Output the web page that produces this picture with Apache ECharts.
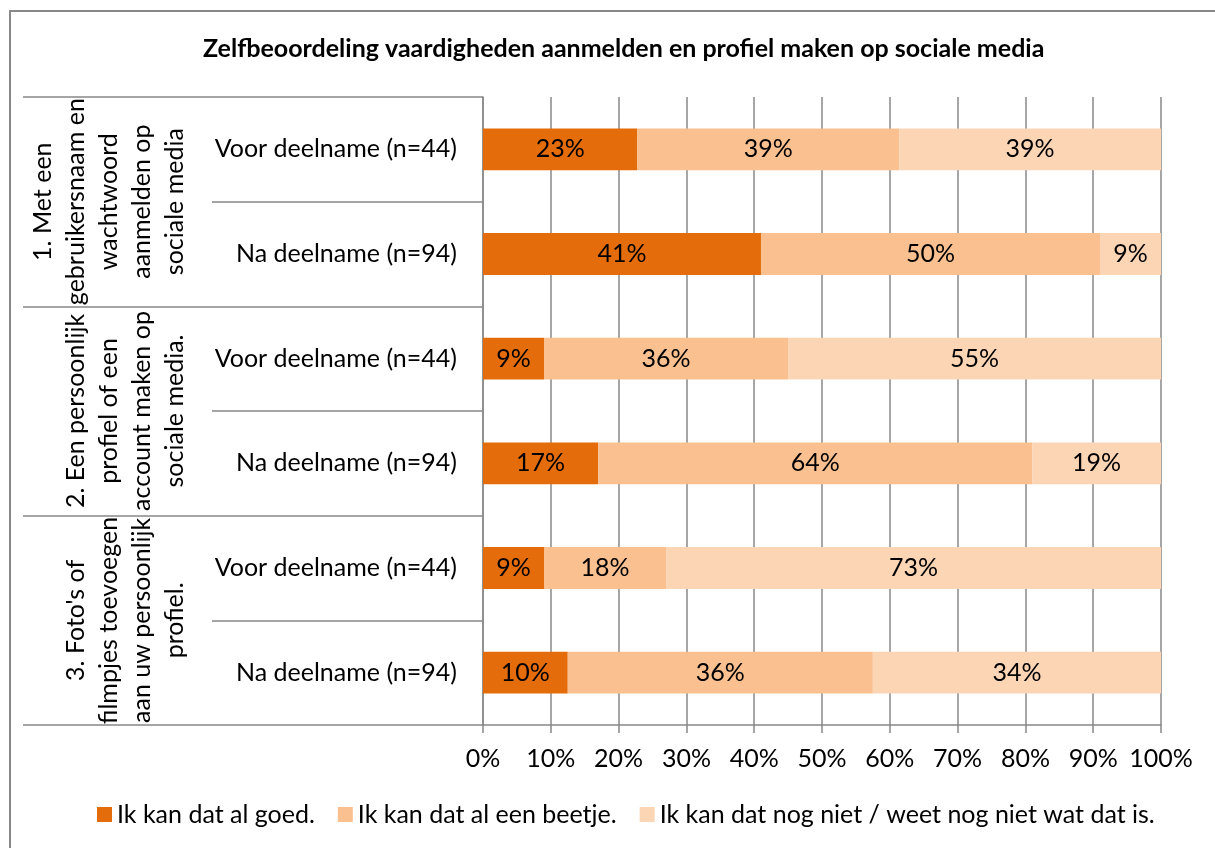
<!DOCTYPE html>
<html lang="nl">
<head>
    <meta charset="UTF-8">
    <title>Zelfbeoordeling</title>
    <style>
        html, body { margin: 0; padding: 0; background: #fff; }
        #main { width: 1215px; height: 848px; }
    </style>
    <script src="https://cdn.jsdelivr.net/npm/echarts@6/dist/echarts.min.js"></script>
</head>
<body>
    <div id="main"></div>
    <script>
        // vragen (groepen) en momenten
        var groepen = [
            '1. Met een\ngebruikersnaam en\nwachtwoord\naanmelden op\nsociale media',
            '2. Een persoonlijk\nprofiel of een\naccount maken op\nsociale media.',
            "3. Foto's of\nfilmpjes toevoegen\naan uw persoonlijk\nprofiel."
        ];
        var momenten = [
            'Voor deelname (n=44)', 'Na deelname (n=94)',
            'Voor deelname (n=44)', 'Na deelname (n=94)',
            'Voor deelname (n=44)', 'Na deelname (n=94)'
        ];
        var reeksen = ['Ik kan dat al goed.', 'Ik kan dat al een beetje.', 'Ik kan dat nog niet / weet nog niet wat dat is.'];

        // percentages zoals in de labels
        var goed   = [23, 41, 9, 17, 9, 10];
        var beetje = [39, 50, 36, 64, 18, 36];
        var nog    = [39, 9, 55, 19, 73, 34];
        var xTicks = [0, 10, 20, 30, 40, 50, 60, 70, 80, 90, 100];

        var kleuren = ['#E46C0A', '#FAC090', '#FCD5B5'];
        var font = 'Lato';
        var fs = 25;
        var lijn = '#888888';

        // 100% gestapeld, net als in Excel
        var totaal = goed.map(function (v, i) { return v + beetje[i] + nog[i]; });
        function aandeel(arr) {
            return arr.map(function (v, i) { return v / totaal[i] * 100; });
        }
        var ruw = [goed, beetje, nog];

        var series = ruw.map(function (arr, k) {
            return {
                name: reeksen[k],
                type: 'bar',
                stack: 'totaal',
                yAxisIndex: 0,
                barWidth: '40%',
                itemStyle: { color: kleuren[k] },
                label: {
                    show: true,
                    position: 'inside',
                    color: '#000',
                    fontFamily: font,
                    fontSize: fs,
                    formatter: function (p) { return arr[p.dataIndex] + '%'; }
                },
                data: aandeel(arr)
            };
        });

        var chart = echarts.init(document.getElementById('main'));
        chart.setOption({
            backgroundColor: '#fff',
            animation: false,
            title: {
                text: 'Zelfbeoordeling vaardigheden aanmelden en profiel maken op sociale media',
                left: 198,
                top: 31,
                textStyle: { fontFamily: font, fontWeight: 'bold', fontSize: fs, color: '#000' }
            },
            legend: {
                bottom: 16,
                left: 92,
                icon: 'rect',
                itemWidth: 15,
                itemHeight: 15,
                itemGap: 23,
                textStyle: { fontFamily: font, fontSize: fs, color: '#000' },
                data: reeksen
            },
            grid: { left: 483, right: 54, top: 97, bottom: 123 },
            xAxis: {
                type: 'value',
                min: xTicks[0],
                max: xTicks[xTicks.length - 1],
                interval: 10,
                axisLine: { show: true, lineStyle: { color: lijn, width: 1.5 } },
                axisTick: { show: true, length: 8, lineStyle: { color: lijn, width: 1.5 } },
                splitLine: { show: true, lineStyle: { color: lijn, width: 1.5 } },
                axisLabel: {
                    margin: 21,
                    color: '#000',
                    fontFamily: font,
                    fontSize: fs,
                    formatter: '{value}%'
                }
            },
            yAxis: [{
                type: 'category',
                position: 'left',
                inverse: true,
                data: momenten,
                axisLine: { show: true, lineStyle: { color: lijn, width: 1.5 } },
                axisTick: { show: true, interval: 0, length: 271, lineStyle: { color: lijn, width: 1.5 } },
                axisLabel: { interval: 0, margin: 26, color: '#000', fontFamily: font, fontSize: fs }
            }, {
                type: 'category',
                position: 'left',
                inverse: true,
                min: 0,
                max: groepen.length - 1,
                data: groepen,
                axisLine: { show: false },
                axisTick: { show: true, interval: 0, length: 460, lineStyle: { color: lijn, width: 1.5 } },
                axisLabel: {
                    interval: 0,
                    rotate: 90,
                    margin: 292,
                    lineHeight: 33,
                    color: '#000',
                    fontFamily: font,
                    fontSize: fs
                }
            }],
            graphic: [{
                type: 'rect',
                shape: { x: 10, y: 11, width: 1230, height: 860 },
                style: { fill: null, stroke: lijn, lineWidth: 2 },
                silent: true
            }],
            series: series
        });
    </script>
</body>
</html>
